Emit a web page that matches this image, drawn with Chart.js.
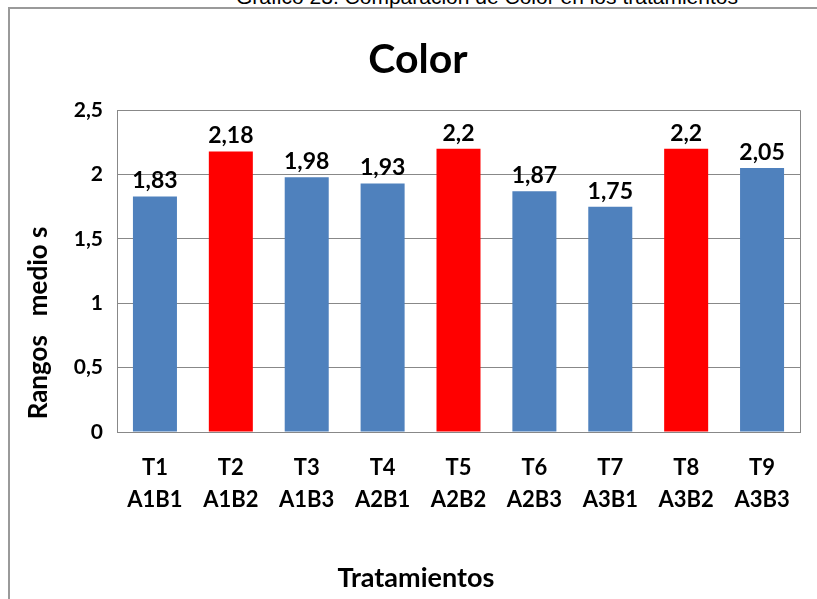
<!DOCTYPE html>
<html>
<head>
<meta charset="utf-8">
<script src="https://cdn.jsdelivr.net/npm/chart.js@4.4.1/dist/chart.umd.min.js"></script>
<style>
  html, body { margin: 0; padding: 0; background: #fff; overflow: hidden; }
  #wrap { position: relative; width: 817px; height: 599px; overflow: hidden; }
  #frame { position: absolute; left: 8px; top: 7px; width: 900px; height: 700px; border: 2px solid #9a9a9a; box-sizing: border-box; }
  #caption { position: absolute; left: 0; width: 974px; top: -14px; text-align: center; font-family: "Liberation Sans", Arial, sans-serif; font-size: 21px; line-height: 22px; color: #000; white-space: nowrap; }
  #c { position: absolute; left: 0; top: 0; }
</style>
</head>
<body>
<div id="wrap">
  <div id="frame"></div>
  <div id="caption">Gráfico 23. Comparación de Color en los tratamientos</div>
  <canvas id="c" width="817" height="599"></canvas>
</div>
<script>
const treatments = ['T1','T2','T3','T4','T5','T6','T7','T8','T9'];
const combos = ['A1B1','A1B2','A1B3','A2B1','A2B2','A2B3','A3B1','A3B2','A3B3'];
const values = [1.83, 2.18, 1.98, 1.93, 2.2, 1.87, 1.75, 2.2, 2.05];
const highlighted = [false, true, false, false, true, false, false, true, false];
const yTicks = [0, 0.5, 1, 1.5, 2, 2.5];

const BLUE = '#4F81BD', RED = '#FF0000', GRID = '#888888';
const FONT = 'Lato, "Open Sans", sans-serif';
const fmt = v => String(v).replace('.', ',');

const valueLabels = {
  id: 'valueLabels',
  afterDatasetsDraw(chart) {
    const ctx = chart.ctx;
    const meta = chart.getDatasetMeta(0);
    ctx.save();
    ctx.font = 'bold 23px ' + FONT;
    ctx.fillStyle = '#000';
    ctx.textAlign = 'center';
    ctx.textBaseline = 'bottom';
    meta.data.forEach((bar, i) => {
      ctx.fillText(fmt(values[i]), bar.x, bar.y - 4);
    });
    ctx.restore();
  }
};
const plotBorder = {
  id: 'plotBorder',
  beforeDatasetsDraw(chart) {
    const {ctx, chartArea: a} = chart;
    ctx.save();
    ctx.strokeStyle = GRID;
    ctx.lineWidth = 1;
    ctx.beginPath();
    ctx.moveTo(Math.round(a.right) + 0.5, a.top);
    ctx.lineTo(Math.round(a.right) + 0.5, a.bottom);
    ctx.stroke();
    ctx.restore();
  }
};

new Chart(document.getElementById('c'), {
  type: 'bar',
  data: {
    labels: treatments.map((t, i) => [t, combos[i]]),
    datasets: [{
      data: values,
      backgroundColor: highlighted.map(h => h ? RED : BLUE),
      borderWidth: 0,
      barPercentage: 1,
      categoryPercentage: 0.58
    }]
  },
  options: {
    responsive: false,
    animation: false,
    devicePixelRatio: 1,
    layout: { padding: { left: 19, right: 0, top: 20, bottom: 5 } },
    plugins: {
      legend: { display: false },
      tooltip: { enabled: false },
      title: {
        display: true,
        text: 'Color',
        color: '#000',
        font: { family: FONT, size: 41, weight: 'bold' },
        padding: { top: 15, bottom: 26 }
      }
    },
    scales: {
      x: {
        grid: { display: false, drawTicks: false },
        border: { display: true, color: GRID },
        ticks: {
          color: '#000',
          padding: 20,
          maxRotation: 0,
          autoSkip: false,
          font: { family: FONT, size: 22, weight: 'bold', lineHeight: 1.45 }
        },
        title: {
          display: true,
          text: 'Tratamientos' + '\u00A0'.repeat(13),
          color: '#000',
          font: { family: FONT, size: 27, weight: 'bold' },
          padding: { top: 0, bottom: 0 }
        },
        afterFit(scale) { scale.height = 162; }
      },
      y: {
        min: 0,
        max: 2.5,
        afterBuildTicks(scale) { scale.ticks = yTicks.map(v => ({ value: v })); },
        grid: { color: GRID, drawTicks: false },
        border: { display: true, color: GRID },
        ticks: {
          color: '#000',
          padding: 14,
          font: { family: FONT, size: 21, weight: 'bold' },
          callback: v => fmt(v)
        },
        title: {
          display: true,
          align: 'start',
          text: '  Rangos   medio s',
          color: '#000',
          font: { family: FONT, size: 26, weight: 'bold' },
          padding: { top: 4, bottom: 0 }
        },
        afterFit(scale) { scale.width = 98; }
      },
      y2: {
        position: 'right',
        display: true,
        grid: { display: false, drawTicks: false },
        border: { display: false },
        ticks: { display: false },
        afterFit(scale) { scale.width = 17; }
      }
    }
  },
  plugins: [valueLabels, plotBorder]
});
</script>
</body>
</html>
